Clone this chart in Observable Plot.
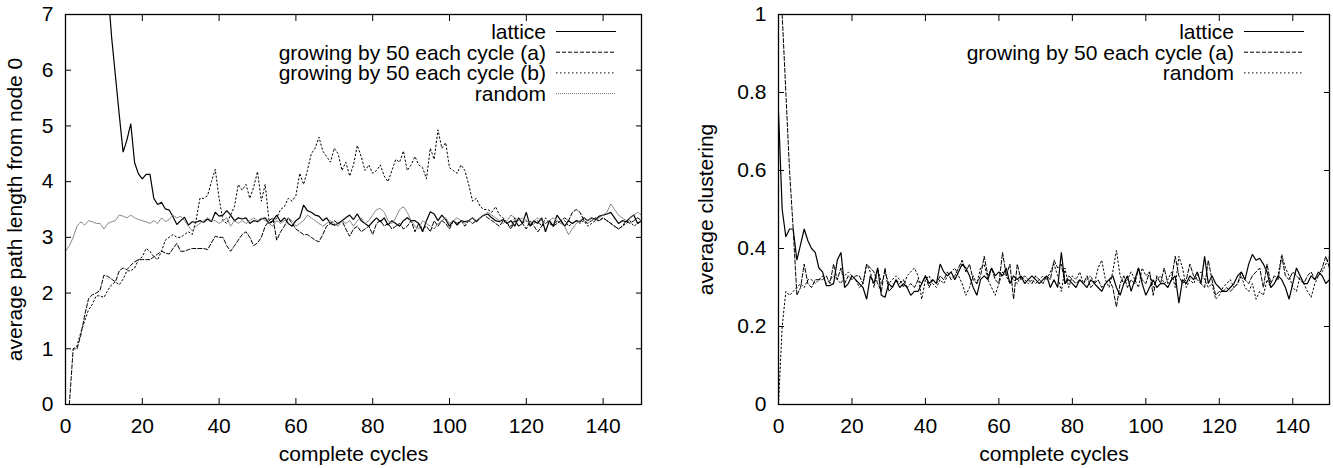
<!DOCTYPE html>
<html>
<head>
<meta charset="utf-8">
<script src="https://cdn.jsdelivr.net/npm/d3@7"></script>
<script src="https://cdn.jsdelivr.net/npm/@observablehq/plot@0.6"></script>
<style>
  html, body { margin: 0; padding: 0; background: white; }
  #wrap { display: flex; flex-direction: row; width: 1333px; height: 468px; }
</style>
</head>
<body>
<div id="wrap"></div>
<script>
// ---------- data ----------
const cycles = d3.range(0, 151);
const xTicks = [0, 20, 40, 60, 80, 100, 120, 140];
const yTicksPath = [0, 1, 2, 3, 4, 5, 6, 7];
const yTicksClust = [0, 0.2, 0.4, 0.6, 0.8, 1];

const pathLabelY = "average path length from node 0";
const clustLabelY = "average clustering";
const labelX = "complete cycles";

const seriesPath = ["lattice", "growing by 50 each cycle (a)", "growing by 50 each cycle (b)", "random"];
const seriesClust = ["lattice", "growing by 50 each cycle (a)", "random"];

// left chart: average path length from node 0
const pathLattice = [40,30,22,17,14,12,10.5,9.5,8.8,8.3,7.9,7.5,6.6,5.9,5.2,4.53,4.75,5.04,4.34,4.14,
4.05,4.13,4.13,3.7,3.59,3.63,3.51,3.49,3.37,3.23,3.30,3.36,3.22,3.28,3.27,3.30,3.27,3.33,3.28,3.45,
3.38,3.40,3.48,3.40,3.30,3.35,3.33,3.35,3.25,3.30,3.28,3.33,3.35,3.25,3.30,3.40,3.28,3.35,3.25,3.20,
3.30,3.35,3.58,3.48,3.45,3.40,3.38,3.30,3.35,3.25,3.22,3.25,3.30,3.35,3.40,3.32,3.42,3.30,3.25,3.20,
3.28,3.35,3.28,3.35,3.22,3.30,3.25,3.20,3.30,3.35,3.30,3.30,3.25,3.10,3.30,3.46,3.42,3.30,3.40,3.32,
3.20,3.30,3.22,3.30,3.28,3.30,3.35,3.28,3.35,3.40,3.42,3.35,3.30,3.28,3.32,3.25,3.30,3.20,3.35,3.25,
3.45,3.20,3.30,3.25,3.35,3.10,3.30,3.20,3.40,3.30,3.20,3.30,3.25,3.30,3.28,3.35,3.30,3.35,3.32,3.38,
3.40,3.42,3.45,3.35,3.25,3.30,3.28,3.35,3.40,3.25,3.30];

const pathGrowA = [null,0.0,1.0,1.0,1.25,1.6,1.9,1.97,2.0,2.05,2.32,2.3,2.25,2.2,2.4,2.45,2.42,2.5,2.56,2.6,
2.6,2.6,2.6,2.65,2.7,2.75,2.72,2.7,2.8,2.89,2.75,2.75,2.78,2.8,2.8,2.8,2.8,2.78,2.9,3.02,
3.0,3.0,2.85,2.75,2.85,2.95,3.05,3.1,3.0,2.85,2.9,3.0,3.2,3.3,3.35,2.95,3.1,3.2,3.35,3.25,
3.15,3.1,3.05,3.05,3.0,2.95,2.92,3.05,3.2,3.25,3.3,3.25,3.3,3.15,3.02,3.15,3.2,3.1,3.15,3.2,
3.05,3.25,3.3,3.2,3.25,3.15,3.2,3.25,3.15,3.2,3.3,3.1,3.25,3.15,3.2,3.1,3.3,3.2,3.3,3.25,
3.15,3.3,3.25,3.3,3.2,3.3,3.25,3.3,3.35,3.4,3.35,3.3,3.25,3.2,3.3,3.25,3.15,3.3,3.2,3.25,
3.15,3.3,3.2,3.1,3.2,3.25,3.3,3.2,3.25,3.3,3.35,3.3,3.45,3.5,3.45,3.3,3.25,3.3,3.35,3.3,
3.35,3.3,3.25,3.2,3.15,3.2,3.3,3.25,3.3,3.35,3.3];

const pathGrowB = [null,null,1.0,1.05,1.3,1.5,1.7,1.8,1.95,1.95,1.92,2.05,2.15,2.2,2.15,2.25,2.4,2.4,2.45,2.6,
2.65,2.8,2.75,2.65,2.6,2.75,2.95,3.0,3.05,3.0,3.0,3.05,3.1,3.05,3.3,3.7,3.7,3.75,4.0,4.22,
3.7,3.3,3.25,3.4,3.55,3.95,3.85,3.95,3.7,3.9,4.18,3.65,3.95,3.3,3.25,3.35,3.5,3.55,3.7,3.65,
3.75,4.15,3.95,4.2,4.5,4.6,4.8,4.55,4.45,4.35,4.6,4.5,4.2,4.35,4.1,4.3,4.65,4.45,4.2,4.3,
4.15,4.2,4.3,4.1,4.0,4.2,4.4,4.35,4.55,4.2,4.3,4.45,4.3,4.25,4.05,4.6,4.4,4.93,4.6,4.7,
4.25,4.2,4.15,4.3,4.2,3.95,3.65,3.7,3.55,3.5,3.5,3.45,3.55,3.4,3.35,3.25,3.2,3.35,3.2,3.25,
3.3,3.2,3.25,3.3,3.2,3.35,3.25,3.2,3.3,3.25,3.3,3.2,3.25,3.3,3.25,3.3,3.2,3.25,3.3,3.3,
3.35,3.3,3.25,3.2,3.15,3.2,3.25,3.3,3.2,3.25,3.3];

const pathRandom = [2.75,2.85,3.0,3.2,3.28,3.22,3.3,3.28,3.25,3.25,3.15,3.25,3.28,3.3,3.4,3.38,3.35,3.4,3.35,3.32,
3.3,3.28,3.25,3.3,3.25,3.35,3.28,3.32,3.4,3.35,3.38,3.3,3.2,3.12,3.2,3.25,3.3,3.35,3.3,3.3,
3.25,3.3,3.35,3.2,3.3,3.25,3.3,3.25,3.3,3.35,3.3,3.35,3.3,3.25,3.2,3.3,3.25,3.3,3.35,3.3,
3.2,3.25,3.3,3.4,3.35,3.3,3.25,3.2,3.25,3.3,3.25,3.2,3.3,3.25,3.3,3.2,3.3,3.35,3.25,3.3,
3.4,3.5,3.52,3.45,3.3,3.25,3.35,3.5,3.55,3.45,3.3,3.2,3.15,3.3,3.25,3.2,3.15,3.25,3.3,3.35,
3.25,3.3,3.35,3.3,3.25,3.3,3.35,3.3,3.35,3.4,3.45,3.4,3.35,3.3,3.25,3.3,3.4,3.35,3.3,3.35,
3.3,3.25,3.3,3.35,3.3,3.25,3.3,3.35,3.3,3.25,3.2,3.05,3.15,3.25,3.3,3.35,3.3,3.35,3.3,3.35,
3.4,3.45,3.6,3.5,3.4,3.35,3.3,3.35,3.4,3.45,3.4];

// right chart: average clustering
const clustLattice = [0.75,0.5,0.43,0.45,0.45,0.37,0.41,0.45,0.42,0.40,0.39,0.35,0.34,0.305,0.305,0.31,0.37,0.39,0.30,0.31,
0.33,0.32,0.31,0.30,0.27,0.33,0.31,0.35,0.28,0.275,0.31,0.30,0.32,0.30,0.31,0.30,0.28,0.29,0.29,0.31,
0.33,0.31,0.32,0.31,0.36,0.34,0.33,0.34,0.32,0.34,0.36,0.35,0.33,0.30,0.28,0.32,0.33,0.32,0.35,0.33,
0.34,0.33,0.35,0.31,0.33,0.32,0.33,0.31,0.32,0.33,0.32,0.31,0.32,0.33,0.30,0.32,0.30,0.39,0.31,0.32,
0.31,0.30,0.32,0.31,0.30,0.32,0.31,0.30,0.29,0.31,0.32,0.33,0.30,0.28,0.31,0.33,0.29,0.32,0.35,0.31,
0.28,0.30,0.32,0.30,0.31,0.31,0.30,0.32,0.33,0.26,0.32,0.31,0.33,0.32,0.34,0.31,0.38,0.31,0.33,0.31,
0.30,0.29,0.29,0.30,0.31,0.33,0.34,0.32,0.36,0.385,0.37,0.375,0.36,0.34,0.30,0.31,0.33,0.32,0.30,0.27,
0.31,0.35,0.33,0.31,0.31,0.33,0.32,0.34,0.33,0.31,0.32];

const clustGrowA = [null,1.0,0.8,0.6,0.45,0.28,0.30,0.36,0.31,0.30,0.32,0.32,0.32,0.33,0.31,0.36,0.32,0.35,0.31,0.33,
0.32,0.33,0.33,0.31,0.36,0.35,0.34,0.31,0.29,0.35,0.29,0.30,0.32,0.31,0.32,0.30,0.31,0.30,0.32,0.31,
0.33,0.30,0.32,0.31,0.33,0.32,0.34,0.32,0.33,0.35,0.37,0.34,0.36,0.32,0.31,0.33,0.38,0.33,0.35,0.32,
0.31,0.39,0.33,0.36,0.27,0.36,0.32,0.33,0.32,0.31,0.33,0.32,0.31,0.33,0.32,0.37,0.35,0.36,0.31,0.33,
0.32,0.31,0.32,0.31,0.33,0.30,0.31,0.32,0.30,0.31,0.32,0.30,0.25,0.31,0.33,0.30,0.32,0.31,0.35,0.32,
0.31,0.34,0.28,0.33,0.31,0.35,0.31,0.32,0.38,0.33,0.31,0.32,0.36,0.33,0.32,0.31,0.30,0.37,0.32,0.28,
0.29,0.29,0.30,0.29,0.30,0.31,0.34,0.32,0.31,0.33,0.34,0.35,0.30,0.36,0.31,0.33,0.32,0.38,0.33,0.32,
0.34,0.33,0.32,0.31,0.33,0.34,0.32,0.33,0.35,0.38,0.35];

const clustRandom = [0.0,0.2,0.29,0.28,0.29,0.30,0.31,0.30,0.32,0.32,0.31,0.32,0.33,0.31,0.32,0.33,0.32,0.31,0.33,0.34,
0.33,0.32,0.30,0.31,0.36,0.34,0.30,0.35,0.31,0.34,0.31,0.32,0.33,0.32,0.30,0.33,0.34,0.35,0.33,0.27,
0.32,0.33,0.31,0.30,0.32,0.31,0.33,0.34,0.35,0.33,0.31,0.28,0.30,0.33,0.31,0.35,0.36,0.32,0.30,0.28,
0.31,0.34,0.33,0.31,0.32,0.31,0.33,0.32,0.31,0.32,0.31,0.32,0.33,0.32,0.34,0.36,0.33,0.29,0.35,0.30,
0.33,0.32,0.34,0.31,0.32,0.33,0.31,0.35,0.37,0.32,0.30,0.34,0.395,0.33,0.31,0.32,0.34,0.32,0.30,0.35,
0.33,0.34,0.30,0.32,0.33,0.31,0.32,0.34,0.30,0.38,0.35,0.30,0.32,0.31,0.33,0.34,0.32,0.30,0.31,0.27,
0.28,0.30,0.31,0.32,0.30,0.31,0.33,0.30,0.29,0.31,0.27,0.29,0.28,0.32,0.30,0.31,0.33,0.385,0.35,0.33,
0.30,0.29,0.33,0.31,0.29,0.275,0.31,0.33,0.34,0.36,0.38];

// ---------- styles ----------
const FONT = "'Liberation Sans', Arial, Helvetica, sans-serif";
const FS = 21;
const styleSolid  = {stroke: "#000", strokeWidth: 1.2, strokeDasharray: null};
const styleDashed = {stroke: "#000", strokeWidth: 1, strokeDasharray: "4,2"};
const styleDotted = {stroke: "#000", strokeWidth: 1, strokeDasharray: "1.5,2.5"};
const styleFine   = {stroke: "#777", strokeWidth: 1, strokeDasharray: "1,1"};

function toRows(values) {
  return cycles.map((c, i) => ({x: c, y: values[i]}));
}

function makeChart({width, marginLeft, marginRight, yDomain, yTicks, yLabel, yLabelOffset, yTickFormat, series}) {
  const marginTop = 14, marginBottom = 64, height = 468;
  const marks = [
    Plot.axisX(xTicks, {anchor: "bottom", tickSize: 0, tickPadding: 14, label: labelX, labelAnchor: "center", labelOffset: 56, labelArrow: "none"}),
    Plot.axisX(xTicks, {anchor: "bottom", tickSize: -6, fill: "none", label: null}),
    Plot.axisX(xTicks, {anchor: "top", tickSize: -6, fill: "none", label: null}),
    Plot.axisY(yTicks, {anchor: "left", tickSize: 0, tickPadding: 12, tickFormat: yTickFormat, label: yLabel, labelAnchor: "center", labelOffset: yLabelOffset, labelArrow: "none"}),
    Plot.axisY(yTicks, {anchor: "left", tickSize: -6, fill: "none", label: null}),
    Plot.axisY(yTicks, {anchor: "right", tickSize: -6, fill: "none", label: null}),
  ];
  for (const s of series) {
    marks.push(Plot.line(toRows(s.values), {x: "x", y: "y", clip: true, strokeLinejoin: "miter", ...s.style}));
  }
  marks.push(Plot.frame({stroke: "#000", strokeWidth: 1.3}));
  const svg = Plot.plot({
    width, height, marginLeft, marginRight, marginTop, marginBottom,
    style: {fontFamily: FONT, fontSize: FS + "px", background: "white", color: "black", overflow: "visible"},
    x: {domain: [0, 150]},
    y: {domain: yDomain},
    marks
  });
  // legend (inside the frame, top right)
  const xRight = width - marginRight;
  const g = d3.select(svg).append("g")
    .attr("font-family", FONT).attr("font-size", FS).attr("fill", "black");
  series.forEach((s, i) => {
    const cy = 31.5 + i * 20.7;
    g.append("text").attr("x", xRight - 95).attr("y", cy).attr("dy", "0.36em")
      .attr("text-anchor", "end").text(s.name);
    g.append("line").attr("x1", xRight - 85).attr("x2", xRight - 25)
      .attr("y1", cy).attr("y2", cy)
      .attr("stroke", s.style.stroke).attr("stroke-width", s.style.strokeWidth)
      .attr("stroke-dasharray", s.style.strokeDasharray);
  });
  return svg;
}

const left = makeChart({
  width: 660, marginLeft: 65, marginRight: 19,
  yDomain: [0, 7], yTicks: yTicksPath, yLabel: pathLabelY, yLabelOffset: 58,
  yTickFormat: d => String(d),
  series: [
    {name: seriesPath[0], values: pathLattice, style: styleSolid},
    {name: seriesPath[1], values: pathGrowA, style: styleDashed},
    {name: seriesPath[2], values: pathGrowB, style: styleDotted},
    {name: seriesPath[3], values: pathRandom, style: styleFine}
  ]
});

const right = makeChart({
  width: 673, marginLeft: 118, marginRight: 4,
  yDomain: [0, 1], yTicks: yTicksClust, yLabel: clustLabelY, yLabelOffset: 80,
  yTickFormat: d => String(d),
  series: [
    {name: seriesClust[0], values: clustLattice, style: styleSolid},
    {name: seriesClust[1], values: clustGrowA, style: styleDashed},
    {name: seriesClust[2], values: clustRandom, style: styleDotted}
  ]
});

document.getElementById("wrap").append(left, right);
</script>
</body>
</html>
